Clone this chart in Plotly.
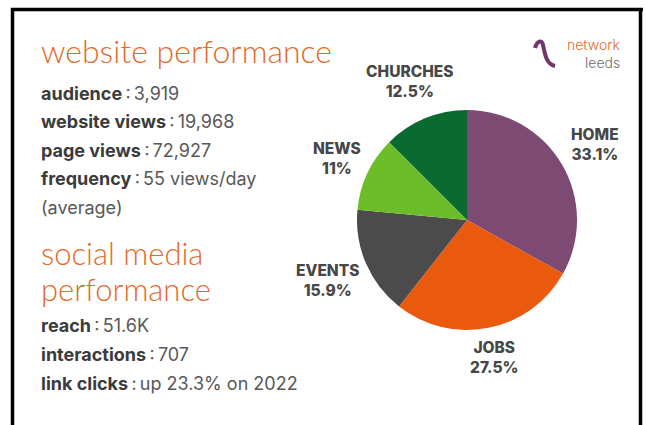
import math
import plotly.graph_objects as go

W, H = 646, 425

# ---- data ----
pie_labels = ["HOME", "JOBS", "EVENTS", "NEWS", "CHURCHES"]
pie_values = [33.1, 27.5, 15.9, 11, 12.5]
pie_colors = ["#7c4a73", "#e9590e", "#4b4b4b", "#6dbd2b", "#0b6a2f"]

web_title = "website performance"
web_keys = ["audience", "website views", "page views", "frequency"]
web_vals = ["3,919", "19,968", "72,927", "55 views/day"]
web_extra = "(average)"

social_title = ["social media", "performance"]
social_keys = ["reach", "interactions", "link clicks"]
social_vals = ["51.6K", "707", "up 23.3% on 2022"]

FONT = "Inter"
HFONT = "Lato"
ORANGE = "#e3692b"
DARK = "#3b3b3b"
LIGHT = "#585858"

fig = go.Figure()

# pie placement in screen pixels
cx, cy, r = 467, 220, 110
fig.add_trace(go.Pie(
    labels=pie_labels,
    values=pie_values,
    textinfo="none",
    sort=False,
    direction="clockwise",
    rotation=0,
    marker=dict(colors=pie_colors, line=dict(width=0)),
    showlegend=False,
    hoverinfo="label+percent",
    domain=dict(x=[(cx - r) / W, (cx + r) / W],
                y=[1 - (cy + r) / H, 1 - (cy - r) / H]),
))

ann = []
def txt(x, y, s, size, color, weight=400, xanchor="left", family=FONT):
    ann.append(dict(x=x, y=y, xref="x", yref="y", text=s, showarrow=False,
                    xanchor=xanchor, yanchor="middle",
                    font=dict(family=family, size=size, color=color, weight=weight)))

# pie labels placed radially outside each slice, from the values
total = sum(pie_values)
cum = 0.0
LBL = 15.5
for lab, v in zip(pie_labels, pie_values):
    mid = (cum + v / 2) / total * 2 * math.pi
    cum += v
    s, c = math.sin(mid), math.cos(mid)
    pct = f"{v:g}%"
    w = max(len(lab), len(pct)) * 14.5 * 0.68
    h = 36
    dist = r + 8 + abs(s) * w / 2 + abs(c) * h / 2
    ann.append(dict(x=cx + dist * s, y=cy - dist * c, xref="x", yref="y",
                    text=f"{lab}<br>{pct}", showarrow=False, align="center",
                    xanchor="center", yanchor="middle",
                    font=dict(family=FONT, size=LBL, color="#474747", weight=800)))

X0 = 39
SEP = "\u2009:\u2009"
BODY = 18
txt(X0, 50, web_title, 32, ORANGE, 300, family=HFONT)
y = 93
for k, v in zip(web_keys, web_vals):
    txt(X0, y, f"<b style='color:{DARK}'>{k}</b><span style='color:{LIGHT}'>{SEP}{v}</span>", BODY, LIGHT)
    y += 28.5
txt(X0, y, web_extra, BODY, LIGHT)

txt(X0, 253, social_title[0], 31, ORANGE, 300, family=HFONT)
txt(X0, 289, social_title[1], 31, ORANGE, 300, family=HFONT)
y = 325
for k, v in zip(social_keys, social_vals):
    txt(X0, y, f"<b style='color:{DARK}'>{k}</b><span style='color:{LIGHT}'>{SEP}{v}</span>", BODY, LIGHT)
    y += 29

# logo
txt(622, 44, "network", 14, ORANGE, 300, "right")
txt(622, 62, "leeds", 14, "#6b6b6b", 300, "right")

shapes = [
    # frame
    dict(type="line", x0=12.5, x1=12.5, y0=8, y1=H, line=dict(color="black", width=3.5)),
    dict(type="line", x0=11, x1=643, y0=9.5, y1=9.5, line=dict(color="black", width=3.5)),
    dict(type="line", x0=640.5, x1=640.5, y0=8, y1=H, line=dict(color="black", width=3.5)),
    # logo swirl
    dict(type="path", path="M 535 48 C 537 41, 542 39, 543 45 C 545 54, 546 64, 555 66",
         line=dict(color="#74356c", width=4)),
]

fig.update_layout(
    width=W, height=H,
    margin=dict(l=0, r=0, t=0, b=0),
    paper_bgcolor="white", plot_bgcolor="white",
    xaxis=dict(range=[0, W], visible=False, domain=[0, 1], fixedrange=True),
    yaxis=dict(range=[H, 0], visible=False, domain=[0, 1], fixedrange=True),
    annotations=ann,
    shapes=shapes,
)

fig.write_html(
    "out.html",
    config={"displayModeBar": False},
    post_script="document.body.style.margin='0px';document.body.style.overflow='hidden';",
)
